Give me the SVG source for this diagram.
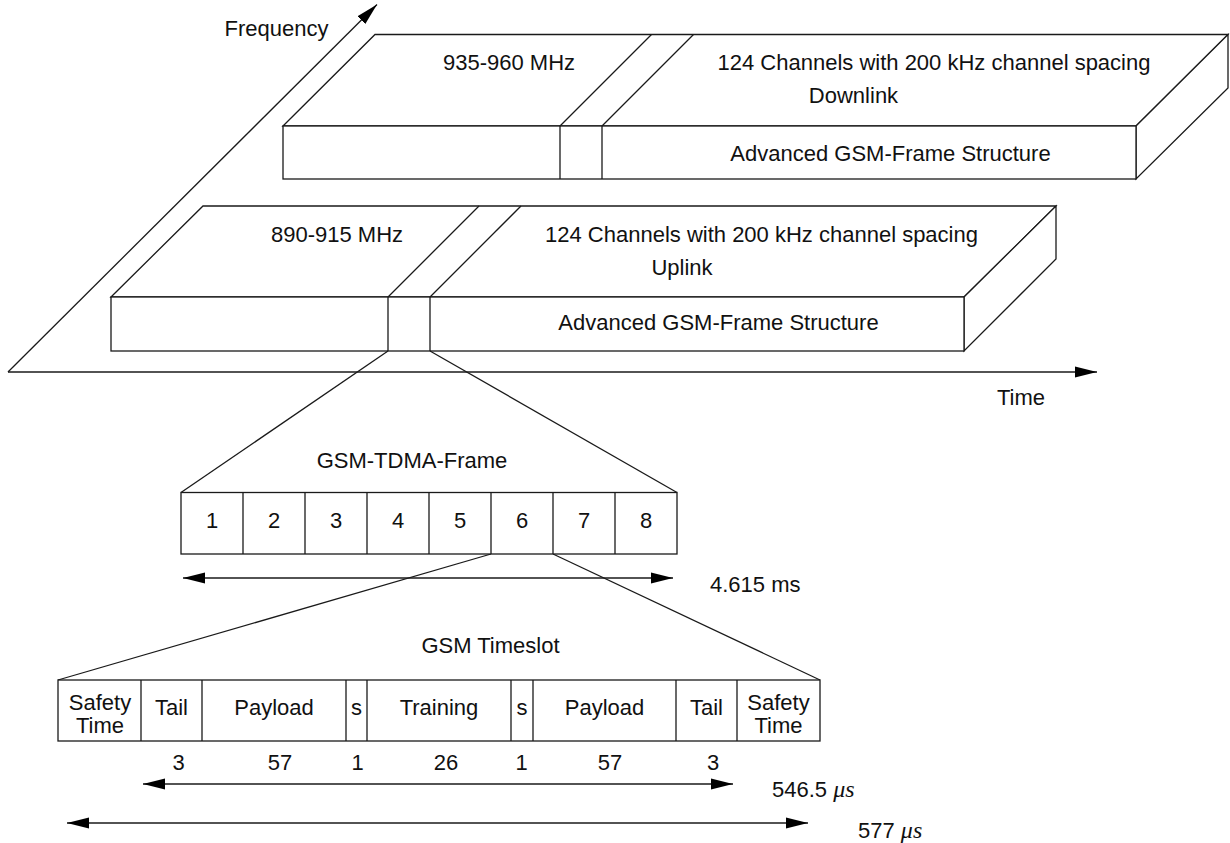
<svg xmlns="http://www.w3.org/2000/svg" width="1230" height="843" viewBox="0 0 1230 843">
<defs>
<marker id="ah" markerUnits="userSpaceOnUse" markerWidth="22" markerHeight="12" viewBox="0 0 22 12" refX="22" refY="6" orient="auto-start-reverse">
<path d="M0,0.5 L22,6 L0,11.5 z" fill="#000"/>
</marker>
<style>
.ln{stroke:#1a1a1a;stroke-width:1.3;fill:none}
.bx{stroke:#1a1a1a;stroke-width:1.3;fill:#fff;stroke-linejoin:miter}
text{font-family:"Liberation Sans",Arial,sans-serif;font-size:22px;fill:#111}
.c{text-anchor:middle}
.ts{font-size:22px}
.mu{font-family:"Liberation Serif","Times New Roman",serif;font-style:italic;font-size:24px}
</style>
</defs>
<rect width="1230" height="843" fill="#fff"/>

<g id="axes">
<line class="ln" x1="8" y1="372" x2="377" y2="4.5" marker-end="url(#ah)"/>
<line class="ln" x1="8" y1="372" x2="1097" y2="372" marker-end="url(#ah)"/>
<text class="c" x="276.5" y="36">Frequency</text>
<text class="c" x="1021" y="405">Time</text>
</g>

<g id="downlink">
<polygon class="bx" points="283,126 375,34.5 1228,34.5 1136,126"/>
<polygon class="bx" points="1136,126 1228,34.5 1228,88 1136,179"/>
<rect class="bx" x="283" y="126" width="853" height="53"/>
<line class="ln" x1="560" y1="126" x2="560" y2="179"/>
<line class="ln" x1="602" y1="126" x2="602" y2="179"/>
<line class="ln" x1="560" y1="126" x2="651.5" y2="34.5"/>
<line class="ln" x1="602" y1="126" x2="693.5" y2="34.5"/>
<text class="c" x="509" y="70">935-960 MHz</text>
<text class="c" x="934" y="70">124 Channels with 200 kHz channel spacing</text>
<text class="c" x="853.5" y="103">Downlink</text>
<text class="c" x="890.5" y="161">Advanced GSM-Frame Structure</text>
</g>

<g id="uplink">
<polygon class="bx" points="111,297 203,206 1056,206 964,297"/>
<polygon class="bx" points="964,297 1056,206 1056,259 964,351"/>
<rect class="bx" x="111" y="297" width="853" height="54"/>
<line class="ln" x1="388" y1="297" x2="388" y2="351"/>
<line class="ln" x1="430" y1="297" x2="430" y2="351"/>
<line class="ln" x1="388" y1="297" x2="479" y2="206"/>
<line class="ln" x1="430" y1="297" x2="521" y2="206"/>
<text class="c" x="337" y="242">890-915 MHz</text>
<text class="c" x="761.5" y="242">124 Channels with 200 kHz channel spacing</text>
<text class="c" x="682" y="275">Uplink</text>
<text class="c" x="718.5" y="330">Advanced GSM-Frame Structure</text>
</g>

<g id="connectors">
<line class="ln" x1="388" y1="351" x2="181" y2="492.5"/>
<line class="ln" x1="430" y1="351" x2="677" y2="492.5"/>
<line class="ln" x1="491" y1="554" x2="58" y2="680"/>
<line class="ln" x1="553" y1="554" x2="820" y2="680"/>
<line class="ln" x1="183" y1="578" x2="673" y2="578" marker-start="url(#ah)" marker-end="url(#ah)"/>
<line class="ln" x1="143" y1="784" x2="733" y2="784" marker-start="url(#ah)" marker-end="url(#ah)"/>
<line class="ln" x1="67" y1="823" x2="808" y2="823" marker-start="url(#ah)" marker-end="url(#ah)"/>
</g>

<g id="tdma-frame">
<text class="c" x="412" y="468">GSM-TDMA-Frame</text>
<rect class="bx" x="181" y="492.5" width="496" height="61.5"/>
<line class="ln" x1="243" y1="492.5" x2="243" y2="554"/>
<line class="ln" x1="305" y1="492.5" x2="305" y2="554"/>
<line class="ln" x1="367" y1="492.5" x2="367" y2="554"/>
<line class="ln" x1="429" y1="492.5" x2="429" y2="554"/>
<line class="ln" x1="491" y1="492.5" x2="491" y2="554"/>
<line class="ln" x1="553" y1="492.5" x2="553" y2="554"/>
<line class="ln" x1="615" y1="492.5" x2="615" y2="554"/>
<text class="c" x="212" y="528">1</text>
<text class="c" x="274" y="528">2</text>
<text class="c" x="336" y="528">3</text>
<text class="c" x="398" y="528">4</text>
<text class="c" x="460" y="528">5</text>
<text class="c" x="522" y="528">6</text>
<text class="c" x="584" y="528">7</text>
<text class="c" x="646" y="528">8</text>
<text x="710" y="592">4.615 ms</text>
</g>

<g id="timeslot">
<text class="c" x="490.5" y="653">GSM Timeslot</text>
<rect class="bx" x="58" y="680" width="762" height="61"/>
<line class="ln" x1="141" y1="680" x2="141" y2="741"/>
<line class="ln" x1="202" y1="680" x2="202" y2="741"/>
<line class="ln" x1="346" y1="680" x2="346" y2="741"/>
<line class="ln" x1="367" y1="680" x2="367" y2="741"/>
<line class="ln" x1="511" y1="680" x2="511" y2="741"/>
<line class="ln" x1="533" y1="680" x2="533" y2="741"/>
<line class="ln" x1="676" y1="680" x2="676" y2="741"/>
<line class="ln" x1="737" y1="680" x2="737" y2="741"/>
<text class="c ts" x="100" y="710">Safety</text>
<text class="c ts" x="100" y="733">Time</text>
<text class="c ts" x="171.5" y="715">Tail</text>
<text class="c ts" x="274" y="715">Payload</text>
<text class="c ts" x="356.5" y="715">s</text>
<text class="c ts" x="439" y="715">Training</text>
<text class="c ts" x="522" y="715">s</text>
<text class="c ts" x="604.5" y="715">Payload</text>
<text class="c ts" x="706.5" y="715">Tail</text>
<text class="c ts" x="778.5" y="710">Safety</text>
<text class="c ts" x="778.5" y="733">Time</text>
<text class="c" x="178.5" y="770">3</text>
<text class="c" x="280" y="770">57</text>
<text class="c" x="357.5" y="770">1</text>
<text class="c" x="446" y="770">26</text>
<text class="c" x="521.5" y="770">1</text>
<text class="c" x="610" y="770">57</text>
<text class="c" x="713" y="770">3</text>
<text x="772" y="797">546.5 <tspan class="mu">μs</tspan></text>
<text x="858" y="838">577 <tspan class="mu">μs</tspan></text>
</g>
</svg>
